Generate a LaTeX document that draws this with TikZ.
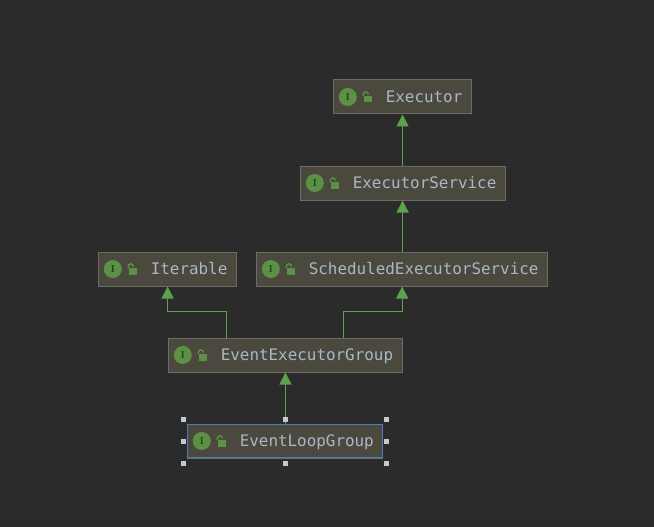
\documentclass[tikz,border=0pt]{standalone}
\usepackage{fontspec}
\setmonofont{DejaVu Sans Mono}
\usetikzlibrary{arrows.meta}
\definecolor{bgdark}{HTML}{2B2B2B}
\definecolor{boxfill}{HTML}{4B483E}
\definecolor{boxline}{HTML}{6C6B64}
\definecolor{selline}{HTML}{4A7DC0}
\definecolor{labelcol}{HTML}{A9B7C6}
\definecolor{icongreen}{HTML}{5A9145}
\definecolor{letterdark}{HTML}{26401F}
\definecolor{edgegreen}{HTML}{5FA04E}
\definecolor{handlecol}{HTML}{C8C8C8}
\tikzset{
ifacebox/.style={draw=boxline,fill=boxfill,line width=1pt,anchor=west,minimum height=34pt,
  inner xsep=9pt,inner ysep=0pt,text=labelcol,font=\ttfamily\fontsize{15.9}{16}\selectfont,text height=13pt,text depth=2pt},
ifaceicon/.style={circle,fill=icongreen,minimum size=18pt,inner sep=0pt,text=letterdark,font=\rmfamily\bfseries\fontsize{10}{10}\selectfont},
extends/.style={draw=edgegreen,line width=1.2pt,-{Triangle[length=12pt,width=12pt,fill=edgegreen]}},
handle/.style={fill=handlecol,minimum size=5pt,inner sep=0pt}
}

\begin{document}
\begin{tikzpicture}[x=1pt,y=-1pt]

\fill[bgdark] (0,0) rectangle (654,527);
\useasboundingbox (0,0) rectangle (654,527);

\foreach \n/\x/\y/\t in {executor/333.3/97/Executor,service/300.3/183/ExecutorService,iterable/98.3/269/Iterable,scheduled/256.3/269/ScheduledExecutorService,group/168.3/355/EventExecutorGroup,loopgroup/187.3/441/EventLoopGroup}
{
\node[ifacebox] (\n) at (\x,\y) {\hspace*{43pt}\t};
\node[ifaceicon] (\n icon) at ([xshift=14.5pt]\n.west) {I};
\begin{scope}[shift={(\n.west)}]
\fill[icongreen] (30.5,-1) rectangle (39,5.5);
\draw[icongreen,line width=1.4pt] (30,-1)--(30,-2.5) .. controls (30,-6) and (35,-6) .. (35,-2.5);
\end{scope}
}

\draw[selline,line width=1.1pt] ([xshift=.6pt,yshift=-.6pt]loopgroup.north west) rectangle ([xshift=-.6pt,yshift=.6pt]loopgroup.south east);

\draw[extends] (executor.south |- service.north) -- (executor.south);
\draw[extends] (executor.south |- scheduled.north) -- (executor.south |- service.south);
\draw[extends] ([xshift=-59pt]group.north) -- ++(0,-26) -| (iterable.south);
\draw[extends] ([xshift=58pt]group.north) -- ++(0,-26) -| (scheduled.south);
\draw[extends] (group.south |- loopgroup.north) -- (group.south);

\foreach \i/\x/\y in {0/183.5/419,1/285/419,2/386.8/419,3/183.5/441,4/386.8/441,5/183.5/463,6/285/463,7/386.8/463}
{
\node[handle] (h\i) at (\x,\y) {};
}
\end{tikzpicture}
\end{document}
